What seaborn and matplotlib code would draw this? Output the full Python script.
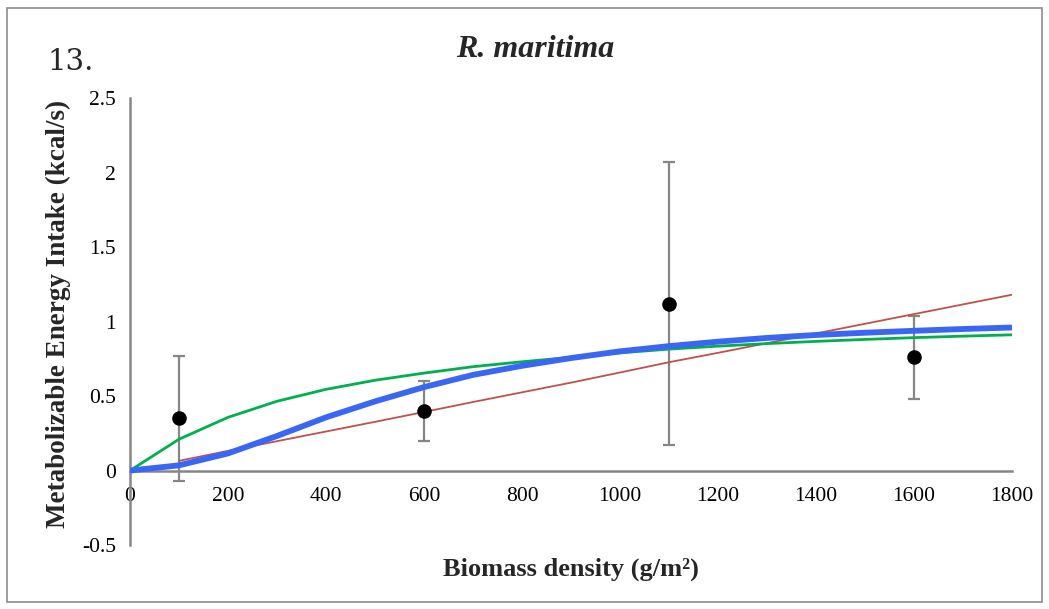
import matplotlib
matplotlib.use("Agg")
import matplotlib.pyplot as plt
import seaborn as sns
import pandas as pd
from matplotlib.patches import Rectangle

# ---- data ----
obs_x = [100, 600, 1100, 1600]
obs_y = [0.35, 0.40, 1.12, 0.76]
obs_err = [0.42, 0.20, 0.95, 0.28]

model_x = [0, 100, 200, 300, 400, 500, 600, 700, 800, 900,
           1000, 1100, 1200, 1300, 1400, 1500, 1600, 1700, 1800]
green_y = [0.0, 0.21, 0.357, 0.465, 0.545, 0.606, 0.654, 0.697, 0.73, 0.76,
           0.79, 0.815, 0.835, 0.852, 0.867, 0.88, 0.892, 0.902, 0.911]
blue_y = [0.0, 0.035, 0.115, 0.232, 0.357, 0.464, 0.56, 0.642, 0.703, 0.755,
          0.80, 0.835, 0.865, 0.89, 0.91, 0.925, 0.938, 0.95, 0.96]
red_x = [100, 200, 300, 400, 500, 600, 700, 800, 900, 1000,
         1100, 1200, 1300, 1400, 1500, 1600, 1700, 1800]
red_y = [0.065, 0.132, 0.197, 0.262, 0.327, 0.393, 0.46, 0.525, 0.59, 0.658,
         0.727, 0.79, 0.855, 0.92, 0.985, 1.05, 1.115, 1.18]

x_ticks = [0, 200, 400, 600, 800, 1000, 1200, 1400, 1600, 1800]
y_ticks = [-0.5, 0, 0.5, 1, 1.5, 2, 2.5]
y_tick_labels = ["-0.5", "0", "0.5", "1", "1.5", "2", "2.5"]

title = "R. maritima"
panel = "13."
xlabel = "Biomass density (g/m²)"
ylabel = "Metabolizable Energy Intake (kcal/s)"

# ---- style ----
sns.set_style("white")
plt.rcParams["font.family"] = ["Liberation Serif", "DejaVu Serif"]

fig = plt.figure(figsize=(10.49, 6.09), dpi=100)
ax = fig.add_axes([0.1239, 0.105, 0.8408, 0.734])

gray = "#868686"

df_g = pd.DataFrame({"x": model_x, "y": green_y})
df_b = pd.DataFrame({"x": model_x, "y": blue_y})
df_r = pd.DataFrame({"x": red_x, "y": red_y})
df_o = pd.DataFrame({"x": obs_x, "y": obs_y})

ax.errorbar(obs_x, obs_y, yerr=obs_err, fmt="none", ecolor=gray,
            elinewidth=1.6, capsize=4.5, capthick=1.6, zorder=2)
sns.lineplot(data=df_r, x="x", y="y", ax=ax, color="#C0504D", linewidth=1.3,
             zorder=3, estimator=None, sort=False)
sns.lineplot(data=df_g, x="x", y="y", ax=ax, color="#00B050", linewidth=2.0,
             zorder=3, estimator=None, sort=False)
sns.lineplot(data=df_b, x="x", y="y", ax=ax, color="#3A66F5", linewidth=4.2,
             zorder=4, estimator=None, sort=False, solid_capstyle="butt")
sns.scatterplot(data=df_o, x="x", y="y", ax=ax, color="black", s=110,
                edgecolor="black", linewidth=0, zorder=5)

ax.set_xlim(0, 1800)
ax.set_ylim(-0.5, 2.5)
ax.set_xticks(x_ticks)
ax.set_xticklabels([str(v) for v in x_ticks])
ax.set_yticks(y_ticks)
ax.set_yticklabels(y_tick_labels)

for s in ["top", "right"]:
    ax.spines[s].set_visible(False)
ax.spines["bottom"].set_position(("data", 0))
for s in ["left", "bottom"]:
    ax.spines[s].set_color(gray)
    ax.spines[s].set_linewidth(1.8)

ax.tick_params(axis="both", direction="out", length=6, width=1.5, color=gray,
               labelsize=15.5, labelcolor="black", pad=4)
ax.tick_params(axis="x", pad=6)
ax.set_xlabel("")
ax.set_ylabel("")

fig.text(0.5443, 0.066, xlabel, ha="center", va="center",
         fontsize=19, fontweight="bold")
fig.text(0.056, 0.484, ylabel, ha="center", va="center", rotation=90,
         fontsize=19.5, fontweight="bold")
fig.text(0.51, 0.919, title, ha="center", va="center", fontsize=23,
         fontweight="bold", fontstyle="italic")
fig.text(0.045, 0.899, panel, ha="left", va="center", fontsize=21,
         family=["DejaVu Serif"])

fig.add_artist(Rectangle((0.0067, 0.0115), 0.9866, 0.975, transform=fig.transFigure,
                         fill=False, edgecolor="#8c8c8c", linewidth=1.2))

fig.savefig("out.png", dpi=100)
